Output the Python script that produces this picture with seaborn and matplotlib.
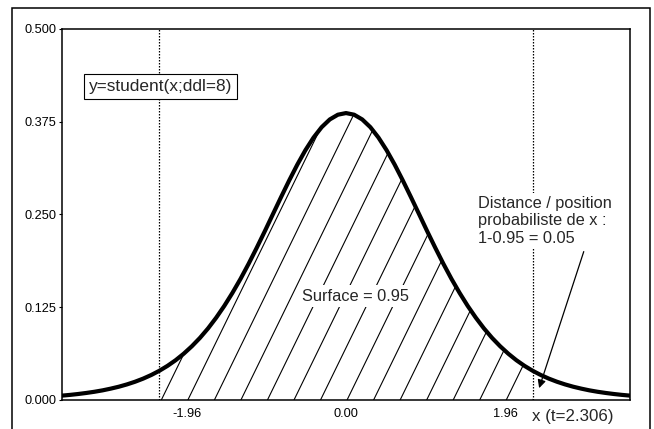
import numpy as np
import pandas as pd
import matplotlib
matplotlib.use("Agg")
import matplotlib.pyplot as plt
from matplotlib.patches import Polygon, Rectangle
import seaborn as sns

# ---- data (Student t density, ddl = 8) ----
x_half = [0.0, 0.1, 0.2, 0.3, 0.4, 0.5, 0.6, 0.7, 0.8, 0.9, 1.0, 1.1, 1.2,
          1.3, 1.4, 1.5, 1.6, 1.7, 1.8, 1.9, 2.0, 2.1, 2.2, 2.3, 2.4, 2.5,
          2.6, 2.7, 2.8, 2.9, 3.0, 3.1, 3.2, 3.3, 3.4, 3.5]
y_half = [0.3867, 0.3845, 0.3781, 0.3677, 0.3537, 0.3367, 0.3172, 0.2959,
          0.2735, 0.2506, 0.2276, 0.2052, 0.1836, 0.1632, 0.1443, 0.1268,
          0.1109, 0.0965, 0.0837, 0.0724, 0.0624, 0.0536, 0.0460, 0.0394,
          0.0337, 0.0288, 0.0246, 0.0210, 0.0179, 0.0153, 0.0130, 0.0111,
          0.0095, 0.0081, 0.0069, 0.0059]
t_crit = 2.306
x_tick_values = [-1.96, 0.0, 1.96]
x_tick_labels = ["-1.96", "0.00", "1.96"]
y_tick_values = [0.0, 0.125, 0.25, 0.375, 0.5]
y_tick_labels = ["0.000", "0.125", "0.250", "0.375", "0.500"]

x_vals = [-v for v in x_half[:0:-1]] + x_half
y_vals = y_half[:0:-1] + y_half
df = pd.DataFrame({"x": x_vals, "y": y_vals})

# ---- styling ----
sns.set_theme(style="white")
plt.rcParams["font.family"] = ["Liberation Sans", "DejaVu Sans"]

fig = plt.figure(figsize=(6.54, 4.29), dpi=100)
ax = fig.add_axes([62 / 654, 1 - 400 / 429, 568 / 654, 371 / 429])

# outer frame around the whole figure
fig.patches.append(Rectangle((12 / 654, -0.05), 638 / 654, 1.05 - 8 / 429,
                             transform=fig.transFigure, fill=False,
                             edgecolor="black", lw=1.1, clip_on=False))

# hatched area under the curve between -t and +t
inside = df[(df["x"] >= -t_crit - 0.01) & (df["x"] <= t_crit + 0.01)]
poly_pts = [(inside["x"].iloc[0], 0.0)] + list(zip(inside["x"], inside["y"])) + \
           [(inside["x"].iloc[-1], 0.0)]
clip_poly = Polygon(poly_pts, closed=True, facecolor="none", edgecolor="none")
ax.add_patch(clip_poly)
slope = 0.224   # hatch slope in data units
step = 0.327    # hatch spacing in data units
x0 = -t_crit + 0.03
while x0 <= t_crit:
    ln, = ax.plot([x0, x0 + 0.5 / slope], [0, 0.5], color="black", lw=0.8)
    ln.set_clip_path(clip_poly)
    x0 += step

# dotted vertical lines at +/- t
for v in (-t_crit, t_crit):
    ax.axvline(v, color="black", lw=0.9, ls=(0, (1.2, 1.2)))

# the density curve
sns.lineplot(data=df, x="x", y="y", ax=ax, color="black", lw=3.0)

ax.set_xlim(-3.5, 3.5)
ax.set_ylim(0, 0.5)
ax.set_xticks(x_tick_values)
ax.set_xticklabels(x_tick_labels)
ax.set_yticks(y_tick_values)
ax.set_yticklabels(y_tick_labels)
ax.set_xlabel("")
ax.set_ylabel("")
ax.tick_params(axis="x", length=0, pad=6, labelsize=9.2, colors="black")
ax.tick_params(axis="y", length=2, width=0.8, pad=2, labelsize=9.2,
               colors="black", left=True)
for sp in ax.spines.values():
    sp.set_color("black")
    sp.set_linewidth(1.1)

# texts
ax.text(-3.17, 0.4225, "y=student(x;ddl=8)", fontsize=12.4, ha="left",
        va="center", bbox=dict(boxstyle="square,pad=0.3", fc="white",
                               ec="black", lw=0.8))
ax.text(0.123, 0.140, "Surface = 0.95", fontsize=11.8, ha="center",
        va="center", bbox=dict(boxstyle="square,pad=0.2", fc="white",
                               ec="none"))
ax.text(1.63, 0.2416, "Distance / position\nprobabiliste de x :\n1-0.95 = 0.05",
        fontsize=11.8, ha="left", va="center", multialignment="left",
        bbox=dict(boxstyle="square,pad=0.15", fc="white", ec="none"),
        zorder=5)
ax.annotate("", xy=(2.38, 0.016), xytext=(2.93, 0.20),
            arrowprops=dict(arrowstyle="-|>", color="black", lw=0.9,
                            mutation_scale=12, shrinkA=0, shrinkB=0))
ax.text((532 - 62) / 568, (400 - 417) / 371, "x (t=2.306)", fontsize=12.2,
        ha="left", va="center", transform=ax.transAxes)

fig.savefig("out.png", dpi=100)
